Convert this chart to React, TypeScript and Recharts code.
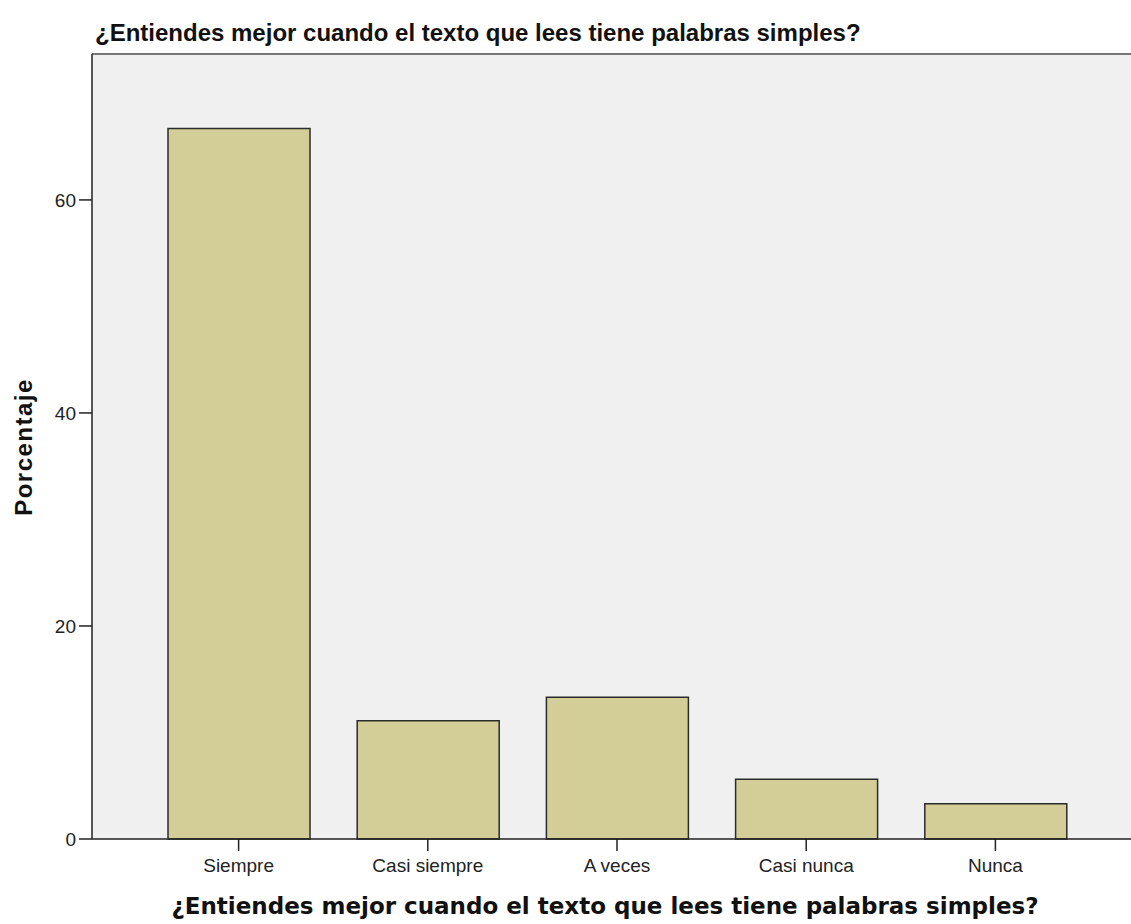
import { Bar, BarChart, CartesianGrid, ReferenceLine, XAxis, YAxis } from "recharts";

const categories = ["Siempre", "Casi siempre", "A veces", "Casi nunca", "Nunca"];
const percentages = [66.7, 11.1, 13.3, 5.6, 3.3];
const yTicks = [0, 20, 40, 60];
const yMax = 73.7;

const title = "¿Entiendes mejor cuando el texto que lees tiene palabras simples?";

const chartData = categories.map((name, i) => ({ name, pct: percentages[i] }));

const tickFont = { fill: "#222", fontSize: 19, fontFamily: "'Liberation Sans', Arial, sans-serif" };

export default function App() {
  return (
    <div
      style={{
        position: "absolute",
        left: 0,
        top: 0,
        width: 1131,
        height: 924,
        overflow: "hidden",
        background: "#fff",
      }}
    >
      <div
        style={{
          position: "absolute",
          left: 95,
          top: 19,
          font: "bold 24px 'Liberation Sans', Arial, sans-serif",
          color: "#111",
          whiteSpace: "nowrap",
        }}
      >
        {title}
      </div>
      <div
        style={{
          position: "absolute",
          left: 24,
          top: 447,
          transform: "translate(-50%, -50%) rotate(-90deg)",
          font: "bold 24px 'Liberation Sans', Arial, sans-serif",
          letterSpacing: 1.5,
          color: "#111",
          whiteSpace: "nowrap",
        }}
      >
        Porcentaje
      </div>
      <div
        style={{
          position: "absolute",
          left: 605,
          top: 893,
          transform: "translateX(-50%)",
          font: "bold 23px 'DejaVu Sans', Verdana, sans-serif",
          color: "#111",
          whiteSpace: "nowrap",
        }}
      >
        {title}
      </div>
      <BarChart
        width={1160}
        height={924}
        data={chartData}
        margin={{ top: 54, right: 18, left: 0, bottom: 45 }}
        style={{ position: "absolute", left: 0, top: 0 }}
      >
        <CartesianGrid fill="#f0f0f0" horizontal={false} vertical={false} />
        <ReferenceLine y={yMax} stroke="#777" strokeWidth={2} />
        <XAxis
          dataKey="name"
          height={40}
          padding={{ left: 52, right: 52 }}
          tickSize={12}
          tickMargin={8}
          axisLine={{ stroke: "#222", strokeWidth: 1.5 }}
          tickLine={{ stroke: "#222", strokeWidth: 1.5 }}
          tick={tickFont}
        />
        <YAxis
          type="number"
          domain={[0, yMax]}
          ticks={yTicks}
          width={92}
          tickSize={13}
          tickMargin={3}
          axisLine={{ stroke: "#222", strokeWidth: 1.5 }}
          tickLine={{ stroke: "#222", strokeWidth: 1.5 }}
          tick={tickFont}
        />
        <Bar
          dataKey="pct"
          barSize={142}
          fill="#d3ce97"
          stroke="#2b2b2b"
          strokeWidth={1.5}
          isAnimationActive={false}
        />
      </BarChart>
    </div>
  );
}
